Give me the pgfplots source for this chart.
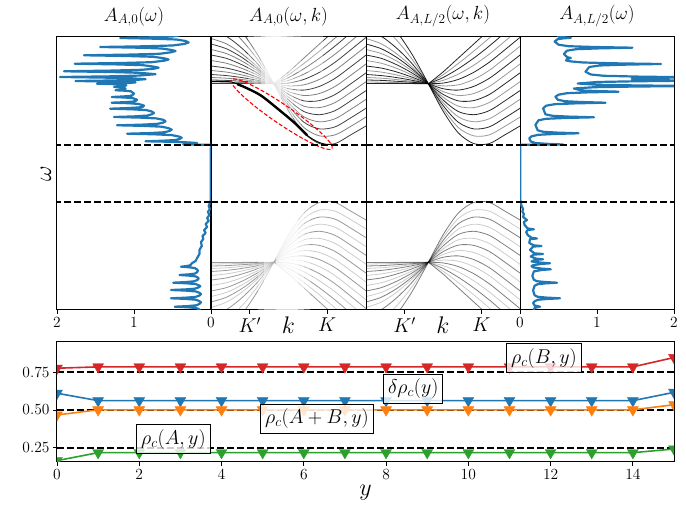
\RequirePackage{fix-cm}
\documentclass[border=0pt]{standalone}
\usepackage{fontspec}
\usepackage{pgfplots}
\usepackage{pgfplotstable}
\pgfplotsset{compat=1.18}
\definecolor{tabblue}{HTML}{1F77B4}
\definecolor{taborange}{HTML}{FF7F0E}
\definecolor{tabgreen}{HTML}{2CA02C}
\definecolor{tabred}{HTML}{D62728}

% upper band, left of the crossing
\pgfplotstableread{
k l0 l1 l2 l3 l4 l5 l6 l7 l8 l9 l10 l11 l12 l13 l14
0 226.5 228.0 230.0 232.5 235.5 239.5 244.0 249.5 255.0 260.5 266.0 271.5 280.0 292.0 305.0
0.1 226.5 227.8 229.6 231.8 234.4 237.9 241.9 246.7 251.6 256.4 261.2 266.1 273.6 284.1 295.6
0.2 226.4 227.4 228.7 230.4 232.4 235.0 238.0 241.6 245.2 248.9 252.5 256.1 261.7 269.7 278.2
0.3 226.4 226.9 227.7 228.6 229.7 231.2 232.8 234.9 236.9 239.0 241.0 243.0 246.2 250.6 255.4
0.405 226.3 226.3 226.3 226.3 226.3 226.3 226.3 226.3 226.3 226.3 226.3 226.3 226.3 226.3 226.3
}\upL
% upper band, right of the crossing
\pgfplotstableread{
k r0 r1 r2 r3 r4 r5 r6 r7 r8 r9 r10 r11 r12 r13 r14
0.405 226.3 226.3 226.3 226.3 226.3 226.3 226.3 226.3 226.3 226.3 226.3 226.3 226.3 226.3 226.3
0.5 199.0 201.8 204.6 207.4 210.1 212.9 215.7 218.5 221.3 224.1 226.9 229.6 232.4 235.2 238.0
0.6 177.0 182.4 187.7 193.1 198.4 203.8 209.1 214.5 219.9 225.2 230.6 235.9 241.3 246.6 252.0
0.7 166.4 174.1 181.1 188.2 195.3 202.4 209.4 216.5 223.6 230.6 237.7 244.8 251.9 258.9 266.0
0.8 166.4 175.1 183.1 191.2 199.3 207.4 215.4 223.5 231.6 239.6 247.7 255.8 263.9 271.9 280.0
0.9 175.0 183.5 192.0 200.5 209.0 217.5 226.0 234.5 243.0 251.5 260.0 268.5 277.0 285.5 294.0
1.0 184.0 192.9 201.7 210.6 219.4 228.3 237.1 246.0 254.9 263.7 272.6 281.4 290.3 299.1 308.0
}\upR
% lower band, left of the crossing
\pgfplotstableread{
k l0 l1 l2 l3 l4 l5 l6 l7 l8 l9 l10 l11 l12 l13 l14
0 47.5 46.0 44.0 41.5 38.5 34.5 30.0 24.5 19.0 13.5 8.0 2.5 -6.0 -18.0 -31.0
0.1 47.5 46.2 44.4 42.2 39.6 36.1 32.1 27.3 22.4 17.6 12.8 7.9 0.4 -10.1 -21.6
0.2 47.6 46.6 45.3 43.6 41.6 39.0 36.0 32.4 28.8 25.1 21.5 17.9 12.3 4.3 -4.2
0.3 47.6 47.1 46.3 45.4 44.3 42.8 41.2 39.1 37.1 35.0 33.0 31.0 27.8 23.4 18.6
0.405 47.7 47.7 47.7 47.7 47.7 47.7 47.7 47.7 47.7 47.7 47.7 47.7 47.7 47.7 47.7
}\loL
% lower band, right of the crossing
\pgfplotstableread{
k r0 r1 r2 r3 r4 r5 r6 r7 r8 r9 r10 r11 r12 r13 r14
0.405 47.7 47.7 47.7 47.7 47.7 47.7 47.7 47.7 47.7 47.7 47.7 47.7 47.7 47.7 47.7
0.5 75.0 72.2 69.4 66.6 63.9 61.1 58.3 55.5 52.7 49.9 47.1 44.4 41.6 38.8 36.0
0.6 97.0 91.6 86.3 80.9 75.6 70.2 64.9 59.5 54.1 48.8 43.4 38.1 32.7 27.4 22.0
0.7 107.6 99.9 92.9 85.8 78.7 71.6 64.6 57.5 50.4 43.4 36.3 29.2 22.1 15.1 8.0
0.8 107.6 98.9 90.9 82.8 74.7 66.6 58.6 50.5 42.4 34.4 26.3 18.2 10.1 2.1 -6.0
0.9 99.0 90.5 82.0 73.5 65.0 56.5 48.0 39.5 31.0 22.5 14.0 5.5 -3.0 -11.5 -20.0
1.0 90.0 81.1 72.3 63.4 54.6 45.7 36.9 28.0 19.1 10.3 1.4 -7.4 -16.3 -25.1 -34.0
}\loR
% A_{A,0}(omega)
\pgfplotstableread{
A w
0.35 277
0.39 275
0.50 273.5
0.77 272.7
1.18 272
0.74 271.3
0.45 270.5
0.33 269
0.29 267.5
0.35 266
0.50 264.5
0.87 263.7
1.44 263
0.95 262.3
0.64 261.5
0.51 260
0.46 259
0.52 257.7
0.67 256.2
1.06 255.4
1.65 254.7
1.10 254.0
0.75 253.2
0.61 251.7
0.55 250.5
0.61 249.3
0.77 247.8
1.16 247.0
1.77 246.3
1.23 245.6
0.88 244.8
0.74 243.3
0.68 242.3
0.74 241.3
0.90 240.2
1.30 239.4
1.91 238.7
1.32 238.0
0.93 237.2
0.72 235.8
0.94 234.4
1.34 233.6
1.96 233
1.40 232.4
1.05 231.8
0.85 230.8
1.01 229.9
1.30 229.5
1.76 229
1.37 228.5
1.12 228.1
0.98 227.6
1.07 227.0
1.23 226.7
1.48 226.3
1.29 225.9
1.17 225.4
1.10 224.6
1.13 223.8
1.18 223.4
1.26 223
1.19 222.6
1.14 222.2
1.11 221.5
1.13 220.5
1.18 220.1
1.24 219.7
1.12 219.3
1.04 218.7
1.00 216.3
1.02 214.8
1.05 214.1
1.15 213.5
1.29 213
1.13 212.5
1.02 211.9
0.96 210.3
0.98 209.0
1.02 208.4
1.13 207.8
1.29 207.3
1.08 206.8
0.95 206.1
0.89 205.0
0.87 204.3
0.89 203.0
0.95 202.5
1.09 201.9
1.31 201.3
1.03 200.7
0.84 199.9
0.77 198.5
0.74 197
0.77 195.7
0.83 194.4
1.00 193.6
1.26 193
0.93 192.4
0.71 191.6
0.62 190.2
0.59 188.7
0.62 187.4
0.70 186.1
0.91 185.3
1.22 184.7
0.87 184.1
0.64 183.3
0.55 181.8
0.51 180.3
0.54 179.0
0.61 177.7
0.80 176.9
1.09 176.3
0.74 175.7
0.51 174.9
0.42 173.5
0.38 172.3
0.41 171.0
0.46 170.0
0.62 169.3
0.85 168.7
0.52 168.2
0.30 167.6
0.18 167
0.25 166.2
0.36 165.5
0.00 165.2
0.003 160
0.003 110
0.01 108
0.03 104
0.015 101
0.04 98
0.02 95
0.05 92
0.03 89
0.07 86
0.05 83
0.09 80
0.07 77
0.11 74
0.10 71
0.13 68
0.12 64
0.15 60
0.15 56
0.18 52
0.20 49
0.25 46.7
0.26 45.3
0.28 44.5
0.32 43.9
0.39 43.3
0.28 42.7
0.21 41.9
0.18 40.5
0.17 39.3
0.18 37.8
0.21 36.4
0.29 35.6
0.41 35
0.29 34.4
0.20 33.6
0.17 32.4
0.16 31.3
0.18 29.9
0.22 28.7
0.33 27.9
0.49 27.3
0.32 26.7
0.20 25.9
0.16 24.8
0.14 23.8
0.16 22.6
0.21 21.3
0.33 20.6
0.52 20
0.33 19.4
0.20 18.6
0.15 17.2
0.13 15.9
0.15 14.5
0.20 13.1
0.33 12.3
0.52 11.7
0.33 11.1
0.20 10.3
0.15 8.9
0.13 7.6
0.15 6.1
0.19 4.7
0.30 3.9
0.47 3.3
0.30 2.7
0.19 1.9
0.15 0.5
0.14 -2
}\specA
% A_{A,L/2}(omega)
\pgfplotstableread{
A w
0.46 277
0.50 273.5
0.56 272.8
0.66 272.2
0.56 271.6
0.49 270.8
0.45 268.5
0.50 265.3
0.63 263.8
0.96 263.0
1.46 262.3
1.02 261.6
0.73 260.8
0.61 259.3
0.57 256
0.61 253
0.63 252.5
0.66 252
0.63 251.5
0.61 251
0.60 249.5
0.66 248.6
0.82 247.5
1.22 246.7
1.83 246
1.34 245.3
1.03 244.5
0.90 243
0.85 238.3
0.92 235.5
1.09 234.2
1.53 233.4
2.2 232.7
1.83 232.2
1.60 231.7
1.45 231
1.60 230.3
1.83 229.8
2.2 229.3
1.48 228.7
1.01 228.0
0.75 226.5
1.01 225.2
1.48 224.6
2.2 224
1.45 223.4
0.97 222.8
0.70 221.5
0.76 220.3
0.80 219.5
0.99 219.0
1.28 218.3
0.87 217.6
0.61 216.8
0.50 215.3
0.46 213.3
0.49 210.3
0.58 208.8
0.79 208.0
1.11 207.3
0.71 206.6
0.45 205.8
0.34 204.3
0.30 201.7
0.33 195.7
0.42 194.2
0.63 193.4
0.96 192.7
0.58 192.0
0.34 191.2
0.24 189.7
0.20 185
0.23 179.7
0.30 178.2
0.48 177.4
0.76 176.7
0.44 176.0
0.24 175.2
0.15 173.7
0.12 171.7
0.14 168.5
0.20 167.0
0.34 166.2
0.56 165.5
0.00 165.2
0.005 160
0.005 110
0.01 108
0.02 104
0.04 101
0.03 98.5
0.05 96
0.04 93
0.09 90
0.05 88
0.06 85
0.10 81.5
0.18 80.7
0.10 80
0.08 78
0.10 75
0.15 72.2
0.22 71.5
0.13 70.8
0.12 67
0.18 64.6
0.28 64
0.17 63.4
0.13 60
0.19 56.6
0.30 56
0.18 55.4
0.14 53.5
0.21 51.3
0.30 50.7
0.19 50
0.15 48.5
0.27 47.4
0.39 46.7
0.27 46.0
0.17 44.8
0.15 43.8
0.17 42.6
0.28 41.4
0.40 40.7
0.28 40.0
0.18 38.6
0.16 34
0.18 30.3
0.22 28.8
0.32 28.0
0.48 27.3
0.33 26.6
0.23 25.8
0.19 24.3
0.17 19.5
0.19 14.7
0.23 13.2
0.345 12.4
0.52 11.7
0.345 11.0
0.23 10.2
0.19 8.7
0.17 7
0.19 4.5
0.26 3.3
0.19 2.1
0.18 0
0.18 -2
}\specB

\pgfplotsset{
  toppanel/.style={
    anchor=south west, scale only axis, height=273pt,
    ymin=0, ymax=273, ytick=\empty,
    axis line style={line width=1pt},
    tick pos=left, tick align=outside, major tick length=4pt,
    tick style={black, line width=0.9pt},
    tick label style={font=\fontsize{15.5}{18}\selectfont},
    title style={font=\fontsize{19}{22}\selectfont, yshift=1pt},
  },
  kpanel/.style={
    xmin=0, xmax=1, xtick={0.25,0.75}, xticklabels={$K'$,$K$},
    xticklabel style={font=\fontsize{20}{22}\selectfont},
    xlabel={$k$},
    xlabel style={at={(axis description cs:0.5,0)}, anchor=north, yshift=-3pt, font=\fontsize{24}{26}\selectfont},
  },
  gapline/.style={black, line width=1.8pt, dash pattern=on 7pt off 3pt},
  spec/.style={tabblue, line width=2.2pt, line join=round},
  bandline/.style={black, line width=0.8pt, smooth},
}

\begin{document}
\begin{tikzpicture}
\useasboundingbox (0,0) rectangle (686pt,506pt);

% ---------------- panel 1
\begin{axis}[toppanel, at={(57pt,196pt)}, width=154pt,
  x dir=reverse, xmin=0, xmax=2, xtick={0,1,2},
  title={$A_{A,0}(\omega)$},
  ylabel={$\omega$},
  ylabel style={at={(axis description cs:-0.072,0.5)}, anchor=center, font=\fontsize{24}{26}\selectfont}]
\addplot[spec] table[x=A, y=w] {\specA};
\addplot[gapline] coordinates {(0,165.3) (2,165.3)};
\addplot[gapline] coordinates {(0,108.3) (2,108.3)};
\end{axis}

% ---------------- panel 2
\begin{axis}[toppanel, kpanel, at={(211pt,196pt)}, width=155pt,
  title={$A_{A,0}(\omega,k)$}]
\pgfplotsinvokeforeach{0,2,...,14}{\addplot[bandline, draw opacity=0.75] table[x=k, y=l#1] {\upL};}
\pgfplotsinvokeforeach{1,3,...,13}{\addplot[bandline, draw opacity=0.5] table[x=k, y=l#1] {\upL};}
\pgfplotsinvokeforeach{0,2,...,14}{\addplot[bandline, draw opacity=0.75] table[x=k, y=r#1] {\upR};}
\pgfplotsinvokeforeach{1,3,...,13}{\addplot[bandline, draw opacity=0.5] table[x=k, y=r#1] {\upR};}
\pgfplotsinvokeforeach{0,2,...,14}{\addplot[bandline, draw opacity=0.4] table[x=k, y=l#1] {\loL};}
\pgfplotsinvokeforeach{1,3,...,13}{\addplot[bandline, draw opacity=0.2] table[x=k, y=l#1] {\loL};}
\pgfplotsinvokeforeach{0,2,...,14}{\addplot[bandline, draw opacity=0.4] table[x=k, y=r#1] {\loR};}
\pgfplotsinvokeforeach{1,3,...,13}{\addplot[bandline, draw opacity=0.2] table[x=k, y=r#1] {\loR};}
% fading of the spectral weight near the crossing
\fill[white, opacity=0.3] (axis cs:0.24,166.5) rectangle (axis cs:0.58,274);
\fill[white, opacity=0.35] (axis cs:0.28,166.5) rectangle (axis cs:0.53,274);
\fill[white, opacity=0.45] (axis cs:0.32,166.5) rectangle (axis cs:0.49,274);
\fill[white, opacity=0.6] (axis cs:0.35,166.5) rectangle (axis cs:0.45,274);
\fill[white, opacity=0.35] (axis cs:0.40,238) rectangle (axis cs:0.72,274);
\fill[white, opacity=0.35] (axis cs:0.30,-1) rectangle (axis cs:0.64,107);
\fill[white, opacity=0.45] (axis cs:0.34,-1) rectangle (axis cs:0.60,107);
\fill[white, opacity=0.6] (axis cs:0.42,-1) rectangle (axis cs:0.56,107);
% surface state
\addplot[black, line width=1pt, smooth] coordinates {(0.0,228.6) (0.06,228.5) (0.13,228) (0.215,223) (0.32,214.7) (0.43,201.3) (0.54,187) (0.62,174.7) (0.69,168) (0.745,165.6) (0.78,166)};
\addplot[black, line width=2.4pt, smooth] coordinates {(0.17,225.8) (0.215,223) (0.32,214.7) (0.43,201.3) (0.54,187) (0.62,174.7)};
\draw[red, line width=1.1pt, dash pattern=on 4pt off 2pt, rotate around={-34.3:(axis cs:0.456,195.8)}] (axis cs:0.456,195.8) ellipse [x radius=61pt, y radius=9.5pt];
\addplot[gapline] coordinates {(0,165.3) (1,165.3)};
\addplot[gapline] coordinates {(0,108.3) (1,108.3)};
\end{axis}

% ---------------- panel 3
\begin{axis}[toppanel, kpanel, at={(366pt,196pt)}, width=154pt,
  title={$A_{A,L/2}(\omega,k)$}]
\pgfplotsinvokeforeach{0,2,...,14}{\addplot[bandline, draw opacity=0.85] table[x=k, y=l#1] {\upL};}
\pgfplotsinvokeforeach{1,3,...,13}{\addplot[bandline, draw opacity=0.4] table[x=k, y=l#1] {\upL};}
\pgfplotsinvokeforeach{0,2,...,14}{\addplot[bandline, draw opacity=0.85] table[x=k, y=r#1] {\upR};}
\pgfplotsinvokeforeach{1,3,...,13}{\addplot[bandline, draw opacity=0.4] table[x=k, y=r#1] {\upR};}
\pgfplotsinvokeforeach{0,2,...,14}{\addplot[bandline, draw opacity=0.5] table[x=k, y=l#1] {\loL};}
\pgfplotsinvokeforeach{1,3,...,13}{\addplot[bandline, draw opacity=0.2] table[x=k, y=l#1] {\loL};}
\pgfplotsinvokeforeach{0,2,...,14}{\addplot[bandline, draw opacity=0.5] table[x=k, y=r#1] {\loR};}
\pgfplotsinvokeforeach{1,3,...,13}{\addplot[bandline, draw opacity=0.2] table[x=k, y=r#1] {\loR};}
\addplot[gapline] coordinates {(0,165.3) (1,165.3)};
\addplot[gapline] coordinates {(0,108.3) (1,108.3)};
\end{axis}

% ---------------- panel 4
\begin{axis}[toppanel, at={(520pt,196pt)}, width=154pt,
  xmin=0, xmax=2, xtick={0,1,2},
  title={$A_{A,L/2}(\omega)$}]
\addplot[spec] table[x=A, y=w] {\specB};
\addplot[gapline] coordinates {(0,165.3) (2,165.3)};
\addplot[gapline] coordinates {(0,108.3) (2,108.3)};
\end{axis}

% ---------------- bottom panel
\begin{axis}[anchor=south west, at={(57pt,44pt)}, scale only axis,
  width=617pt, height=120pt,
  xmin=0, xmax=15, ymin=0.155, ymax=0.951,
  xtick={0,2,...,14}, ytick={0.25,0.5,0.75},
  yticklabel style={/pgf/number format/.cd, fixed, fixed zerofill, precision=2},
  axis line style={line width=1pt},
  tick pos=left, tick align=outside, major tick length=4pt,
  tick style={black, line width=0.9pt},
  tick label style={font=\fontsize{15.5}{18}\selectfont},
  xlabel={$y$},
  xlabel style={at={(axis description cs:0.5,0)}, anchor=center, yshift=-31pt, font=\fontsize{24}{26}\selectfont},
  clip marker paths=true,
  every axis plot/.append style={line width=1.6pt, mark=triangle*, mark size=6.3pt, mark options={rotate=180, solid, line width=0.4pt}},
]
\addplot[gapline, mark=none] coordinates {(0,0.75) (15,0.75)};
\addplot[gapline, mark=none] coordinates {(0,0.5) (15,0.5)};
\addplot[gapline, mark=none] coordinates {(0,0.25) (15,0.25)};
\addplot[tabred] coordinates {(0,0.777) (1,0.786) (2,0.786) (3,0.786) (4,0.786) (5,0.786) (6,0.786) (7,0.786) (8,0.786) (9,0.786) (10,0.786) (11,0.786) (12,0.786) (13,0.786) (14,0.786) (15,0.848)};
\addplot[tabblue] coordinates {(0,0.611) (1,0.562) (2,0.562) (3,0.562) (4,0.562) (5,0.562) (6,0.562) (7,0.562) (8,0.562) (9,0.562) (10,0.562) (11,0.562) (12,0.562) (13,0.562) (14,0.562) (15,0.617)};
\addplot[taborange] coordinates {(0,0.467) (1,0.501) (2,0.501) (3,0.501) (4,0.501) (5,0.501) (6,0.501) (7,0.501) (8,0.501) (9,0.501) (10,0.501) (11,0.501) (12,0.501) (13,0.501) (14,0.501) (15,0.535)};
\addplot[tabgreen] coordinates {(0,0.164) (1,0.217) (2,0.217) (3,0.217) (4,0.217) (5,0.217) (6,0.217) (7,0.217) (8,0.217) (9,0.217) (10,0.217) (11,0.217) (12,0.217) (13,0.217) (14,0.217) (15,0.241)};
\tikzset{lbl/.style={draw=black, line width=1pt, fill=white, fill opacity=0.8, text opacity=1, inner sep=4.5pt, font=\fontsize{20}{22}\selectfont}}
\node[lbl] at (axis cs:11.84,0.842) {$\rho_c(B,y)$};
\node[lbl] at (axis cs:8.66,0.641) {$\delta\rho_c(y)$};
\node[lbl] at (axis cs:6.32,0.442) {$\rho_c(A+B,y)$};
\node[lbl] at (axis cs:2.83,0.306) {$\rho_c(A,y)$};
\end{axis}
\end{tikzpicture}
\end{document}
